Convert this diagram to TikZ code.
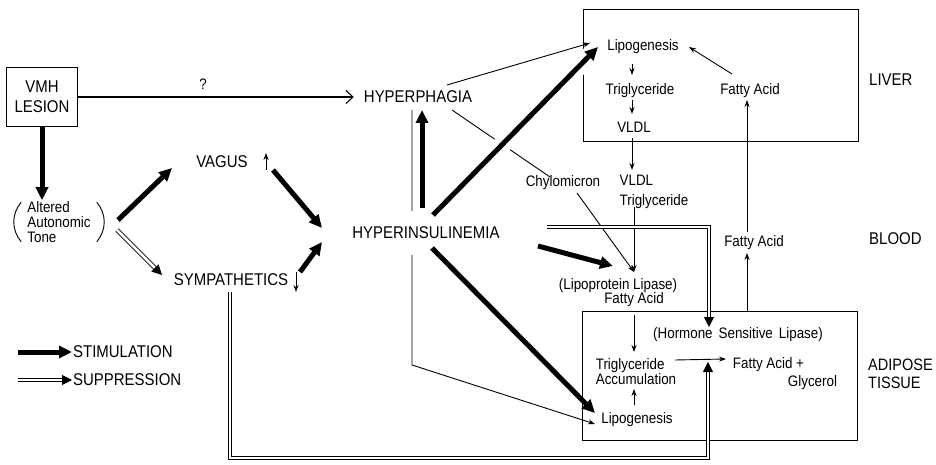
\documentclass[tikz,border=0pt]{standalone}
\usepackage{fontspec}
\setmainfont[FakeStretch=0.88]{Liberation Sans}
\usetikzlibrary{calc,positioning,arrows.meta}
\newcommand\widesp{\spaceskip=6pt\relax}

\begin{document}
\begin{tikzpicture}[x=1pt,y=-1pt,
  lblbig/.style={font=\fontsize{17}{20}\selectfont,inner sep=1pt},
  lblsm/.style={font=\fontsize{15.2}{15}\selectfont,inner sep=1pt},
  regionbox/.style={draw,line width=1pt,inner sep=0pt},
  stim/.style={line width=5pt,-{Triangle[length=13pt,width=12pt]}},
  supp/.style={double,double distance=2.6pt,line width=0.9pt,-{Triangle[length=10pt,width=10pt]}},
  thinarr/.style={line width=0.9pt,-{Stealth[length=7pt,width=5pt]}},
  openarr/.style={line width=1.1pt,-{Straight Barb[length=7pt,width=13pt]}},
  halo/.style={preaction={draw=white,line width=18pt,-}}]
\useasboundingbox (0,0) rectangle (936,465);
\node[regionbox,minimum width=275pt,minimum height=132pt] (liverbox) at (720.5,76) {};
\node[regionbox,minimum width=275pt,minimum height=129pt] (adipbox) at (719.5,375.5) {};
\node[draw,line width=1pt,lblbig,align=center,minimum width=71pt,minimum height=59pt] (vmh) at (42,97) {VMH\\LESION};
\node[lblsm] (q) at (203,84) {?};
\node[lblbig] (hyphag) at (418,97) {HYPERPHAGIA};
\node[lblsm,align=left] (alt) at (59,222) {Altered\\Autonomic\\Tone};
\node[lblbig] (vagus) at (222,162) {VAGUS};
\node[lblbig] (symp) at (231,280) {SYMPATHETICS};
\node[lblsm] (llipo) at (643,47) {Lipogenesis};
\node[lblsm] (ltg) at (640,91) {Triglyceride};
\node[lblsm] (lvldl) at (634,127) {VLDL};
\node[lblsm] (lfa) at (750,91) {Fatty Acid};
\node[lblsm] (chylo) at (563,183) {Chylomicron};
\node[lblsm,align=left,font=\fontsize{15.2}{20}\selectfont] (bvldl) at (654,192) {VLDL\\Triglyceride};
\node[lblsm] (lpl) at (618,286) {(Lipoprotein Lipase)};
\node[lblsm] (lplfa) at (634,300) {Fatty Acid};
\node[lblsm] (bfa) at (754,243) {Fatty Acid};
\node[lblsm,font=\fontsize{15.2}{15}\selectfont\widesp] (hsl) at (738,335) {(Hormone Sensitive Lipase)};
\node[lblsm,align=left] (atg) at (636,372) {Triglyceride\\Accumulation};
\node[lblsm] (alipo) at (637,420) {Lipogenesis};
\node[lblsm,align=left,font=\fontsize{15.2}{18}\selectfont] (fag) at (785,374) {Fatty Acid +\\\hspace*{55pt}Glycerol};
\node[lblbig,anchor=west] (liverlbl) at (868,80) {LIVER};
\node[lblbig,anchor=west] (bloodlbl) at (868,239) {BLOOD};
\node[lblbig,anchor=west,align=left,font=\fontsize{16.5}{18}\selectfont] (adiplbl) at (867,374) {ADIPOSE\\TISSUE};
\node[lblbig,anchor=west] (stimlbl) at (72,352) {STIMULATION};
\node[lblbig,anchor=west] (supplbl) at (72,380) {SUPPRESSION};
\draw[line width=0.9pt] ($(alt.north west)+(-5,2)$) to[bend right=40] ($(alt.south west)+(-5,-2)$);
\draw[line width=0.9pt] ($(alt.north east)+(5,2)$) to[bend left=40] ($(alt.south east)+(5,-2)$);
\draw[line width=0.9pt] ($(hyphag)+(34,13)$) -- ($(chylo)+(-13,-6)$);
\draw[thinarr] ($(hyphag)+(-6,13)$) -- ($(hyphag)+(-6,268)$) -- ($(alipo)+(-42,4)$);
\node[lblbig,fill=white,inner ysep=16pt] (hyperins) at (426,233) {HYPERINSULINEMIA};
\draw[stim,halo] ($(hyperins)+(7,-18)$) -- ($(llipo)+(-45,0)$);
\draw[openarr] (vmh.east) -- ($(hyphag.west)+(-9,0)$);
\draw[stim] (vmh.south) -- (vmh.south |- alt.north);
\draw[stim] ($(alt)+(59,-2)$) -- ($(vagus)+(-50,6)$);
\draw[supp] ($(alt)+(58,8)$) -- ($(symp)+(-69,-5)$);
\draw[stim] ($(vagus)+(51,8)$) -- ($(hyperins)+(-104,-5)$);
\draw[stim] ($(symp)+(69,-8)$) -- ($(hyperins)+(-104,9)$);
\draw[thinarr] ($(vagus)+(44,8)$) -- ($(vagus)+(44,-9)$);
\draw[thinarr] ($(symp)+(65,-8)$) -- ($(symp)+(65,12)$);
\draw[stim] ($(hyperins)+(-4,-25)$) -- ($(hyphag)+(4,13)$);
\draw[thinarr] ($(hyphag)+(29,-12)$) -- ($(llipo)+(-53,-4)$);
\draw[stim] ($(hyperins)+(112,13)$) -- ($(lpl)+(-5,-20)$);
\draw[stim] ($(hyperins)+(6,15)$) -- ($(alipo)+(-42,-7)$);
\draw[thinarr] ($(chylo)+(14,10)$) -- ($(lpl)+(16,-14)$);
\draw[thinarr] ($(bvldl)+(-20,15)$) -- ($(lpl)+(16,-14)$);
\draw[thinarr] ($(llipo)+(-11,17)$) -- ($(ltg)+(-8,-16)$);
\draw[thinarr] ($(ltg)+(-8,9)$) -- ($(lvldl)+(-2,-13)$);
\draw[thinarr] ($(lvldl)+(-2,11)$) -- ($(bvldl)+(-22,-22)$);
\draw[thinarr] ($(lfa)+(-18,-17)$) -- ($(llipo)+(46,0)$);
\draw[thinarr] ($(bfa)+(-7,-11)$) -- ($(lfa)+(-3,9)$);
\draw[thinarr] ($(adipbox.north)+(27.5,0)$) -- ($(bfa)+(-7,10)$);
\draw[thinarr] ($(lplfa)+(0,15)$) -- ($(atg)+(-2,-20)$);
\draw[thinarr] ($(alipo)+(-3,-15)$) -- ($(atg)+(-2,17)$);
\draw[thinarr] ($(atg)+(39,-12)$) -- ($(fag)+(-59,-15)$);
\draw[supp] ($(hyperins)+(121,-6)$) -| ($(hsl)+(-29,-8)$);
\draw[supp] ($(symp)+(-1,12)$) -- ++(0,166) -| ($(atg)+(72,-10)$);
\draw[stim] ($(stimlbl.west)+(-54,0)$) -- (stimlbl.west);
\draw[supp] ($(supplbl.west)+(-54,0)$) -- (supplbl.west);
\end{tikzpicture}
\end{document}
